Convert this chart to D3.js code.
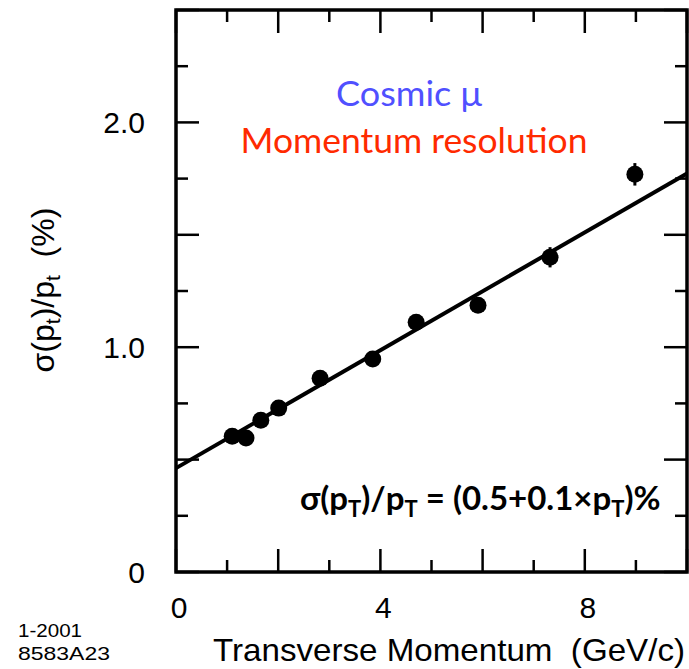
<!DOCTYPE html>
<html>
<head>
<meta charset="utf-8">
<script src="https://cdn.jsdelivr.net/npm/d3@7"></script>
<style>
  body { margin: 0; background: #fff; }
  svg { display: block; }
</style>
</head>
<body>
<div id="chart"></div>
<script>
// measured points: transverse momentum (GeV/c) vs resolution (%)
let ptVals  = [1.10, 1.37, 1.66, 2.01, 2.82, 3.85, 4.70, 5.91, 7.32, 8.98]
let resVals = [0.604, 0.596, 0.675, 0.729, 0.862, 0.947, 1.111, 1.187, 1.400, 1.769]
let resErr  = [0.02, 0.02, 0.02, 0.02, 0.02, 0.02, 0.02, 0.03, 0.045, 0.05]
// straight line fit drawn through the points
let fitX = [0, 10]
let fitY = [0.462, 1.773]
let xTickLabels = [0, 4, 8]
let yTickLabels = [0, 1.0, 2.0]

let w = 689, h = 669
let mLeft = 176, mRight = 687, mTop = 10, mBottom = 572

let svg = d3.select('#chart').append('svg').attr('width', w).attr('height', h)

let x = d3.scaleLinear().domain([0, 10]).range([mLeft, mRight])
let y = d3.scaleLinear().domain([0, 2.5]).range([mBottom, mTop])

let helv = 'Liberation Sans, Arial, sans-serif'
let cali = 'Lato, Open Sans, sans-serif'

// ticks on all four sides, long on majors
let xt = d3.range(0, 11, 1)
let yt = d3.range(0, 2.51, 0.25)
let tickLen = (major)=> major ? 23 : 12

let ticks = svg.append('g').attr('stroke', '#000').attr('stroke-width', 2.5)
xt.forEach(v=>{
  let L = tickLen(v % 2 === 0)
  ticks.append('line').attr('x1', x(v)).attr('x2', x(v)).attr('y1', mBottom).attr('y2', mBottom - L)
  ticks.append('line').attr('x1', x(v)).attr('x2', x(v)).attr('y1', mTop).attr('y2', mTop + L)
})
yt.forEach(v=>{
  let L = tickLen(Math.abs(v * 2 - Math.round(v * 2)) < 1e-6)
  ticks.append('line').attr('x1', mLeft).attr('x2', mLeft + L).attr('y1', y(v)).attr('y2', y(v))
  ticks.append('line').attr('x1', mRight).attr('x2', mRight - L).attr('y1', y(v)).attr('y2', y(v))
})

// frame
svg.append('rect')
  .attr('x', mLeft).attr('y', mTop)
  .attr('width', mRight - mLeft).attr('height', mBottom - mTop)
  .attr('fill', 'none').attr('stroke', '#000').attr('stroke-width', 3.5)

// tick labels
svg.selectAll('.xl').data(xTickLabels).enter().append('text')
  .attr('x', d=>x(d) + 3).attr('y', 618)
  .attr('text-anchor', 'middle')
  .attr('font-family', helv).attr('font-size', 30)
  .text(d=>d)

svg.selectAll('.yl').data(yTickLabels).enter().append('text')
  .attr('x', 145).attr('y', d=>y(d) + 10.5)
  .attr('text-anchor', 'end')
  .attr('font-family', helv).attr('font-size', 30)
  .text(d=>d === 0 ? '0' : d.toFixed(1))

// axis titles
svg.append('text')
  .attr('x', 449).attr('y', 661)
  .attr('text-anchor', 'middle')
  .attr('font-family', helv).attr('font-size', 32)
  .attr('textLength', 472).attr('lengthAdjust', 'spacingAndGlyphs')
  .text('Transverse Momentum\u00a0\u00a0(GeV/c)')

let yt1 = svg.append('text')
  .attr('transform', 'translate(54,290) rotate(-90)')
  .attr('text-anchor', 'middle')
  .attr('font-family', helv).attr('font-size', 32)
yt1.append('tspan').text('σ(p')
yt1.append('tspan').attr('font-size', 21).attr('dy', 6).text('t')
yt1.append('tspan').attr('dy', -6).text(')/p')
yt1.append('tspan').attr('font-size', 21).attr('dy', 6).text('t')
yt1.append('tspan').attr('dy', -6).text('\u00a0\u00a0(%)')

// stamp bottom left
svg.append('text').attr('x', 18).attr('y', 637)
  .attr('font-family', helv).attr('font-size', 19)
  .attr('textLength', 64).attr('lengthAdjust', 'spacingAndGlyphs').text('1-2001')
svg.append('text').attr('x', 18).attr('y', 660)
  .attr('font-family', helv).attr('font-size', 19)
  .attr('textLength', 92).attr('lengthAdjust', 'spacingAndGlyphs').text('8583A23')

// fit line
let line = d3.line().x(d=>x(d[0])).y(d=>y(d[1]))
svg.append('path')
  .datum(fitX.map((v, i)=>[v, fitY[i]]))
  .attr('d', line)
  .attr('fill', 'none').attr('stroke', '#000').attr('stroke-width', 4)

// points with error bars
let pts = ptVals.map((v, i)=>({x: v, y: resVals[i], e: resErr[i]}))
svg.selectAll('.err').data(pts).enter().append('line')
  .attr('x1', d=>x(d.x)).attr('x2', d=>x(d.x))
  .attr('y1', d=>y(d.y - d.e)).attr('y2', d=>y(d.y + d.e))
  .attr('stroke', '#000').attr('stroke-width', 3)
svg.selectAll('.pt').data(pts).enter().append('circle')
  .attr('cx', d=>x(d.x)).attr('cy', d=>y(d.y))
  .attr('r', 8.5).attr('fill', '#000')

// annotations
svg.append('text')
  .attr('x', 409).attr('y', 106)
  .attr('text-anchor', 'middle')
  .attr('font-family', cali).attr('font-size', 35).attr('fill', '#5050ff')
  .attr('textLength', 146).attr('lengthAdjust', 'spacingAndGlyphs')
  .text('Cosmic μ')
svg.append('text')
  .attr('x', 414).attr('y', 153)
  .attr('text-anchor', 'middle')
  .attr('font-family', cali).attr('font-size', 35).attr('fill', '#ff2a00')
  .attr('textLength', 347).attr('lengthAdjust', 'spacingAndGlyphs')
  .text('Momentum resolution')

let f = svg.append('text')
  .attr('x', 300).attr('y', 510)
  .attr('font-family', cali).attr('font-weight', 'bold').attr('font-size', 33)
f.append('tspan').text('σ(p')
f.append('tspan').attr('font-size', 22).attr('dy', 7).text('T')
f.append('tspan').attr('dy', -7).text(')/p')
f.append('tspan').attr('font-size', 22).attr('dy', 7).text('T')
f.append('tspan').attr('dy', -7).text(' = (0.5+0.1×p')
f.append('tspan').attr('font-size', 22).attr('dy', 7).text('T')
f.append('tspan').attr('dy', -7).text(')%')
</script>
</body>
</html>
